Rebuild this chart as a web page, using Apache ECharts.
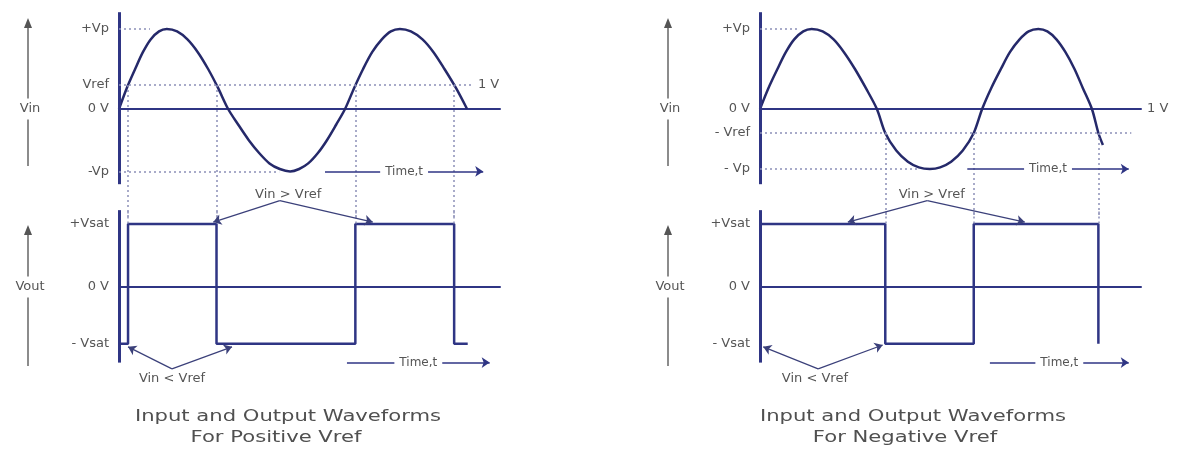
<!DOCTYPE html>
<html>
<head>
<meta charset="utf-8">
<title>Comparator input / output waveforms</title>
<script src="https://cdn.jsdelivr.net/npm/echarts@6/dist/echarts.min.js"></script>
<style>
  html, body { margin: 0; padding: 0; background: #fff; }
  #chart { width: 1177px; height: 450px; }
</style>
</head>
<body>
<div id="chart"></div>
<script>
// time axis in degrees of phase, voltages normalised (Vp = 1, Vsat = 1)

// --- positive Vref (left) ---
const posVinT = [0, 12, 25, 37, 49, 62, 74, 90, 106, 122, 138, 153, 169, 185, 201, 217, 233, 249, 265, 279, 293, 308, 322, 336, 350, 364, 378, 392, 407, 421, 435, 452, 470, 487, 504, 522, 539];
const posVinV = [0, 0.26, 0.5, 0.71, 0.87, 0.97, 1, 0.97, 0.87, 0.71, 0.5, 0.27, 0, -0.2, -0.39, -0.55, -0.68, -0.75, -0.78, -0.75, -0.68, -0.55, -0.39, -0.2, 0, 0.26, 0.5, 0.71, 0.87, 0.97, 1, 0.97, 0.87, 0.71, 0.5, 0.26, 0];
const posVoutT = [0, 14, 151, 366, 519, 540];
const posVoutV = [-0.9, 1, -0.9, 1, -0.9, -0.9];
const posVref = 0.3;
const posCross = [14, 151, 366, 519];
const posInTicks = [1, 0.3, 0, -0.78];
const posInLabels = ['+Vp', 'Vref', '0 V', '-Vp'];
const posGuideLevels = [1, 0.3, -0.78];
const posGuideEnds = [48, 548, 248];

// --- negative Vref (right) ---
const negVinT = [0, 13, 27, 40, 53, 67, 80, 97, 114, 130, 147, 164, 181, 194, 211, 229, 246, 263, 279, 296, 314, 331, 344, 358, 373, 387, 402, 416, 431, 445, 459, 473, 487, 500, 514, 524, 531];
const negVinV = [0, 0.26, 0.5, 0.71, 0.87, 0.97, 1, 0.97, 0.87, 0.71, 0.5, 0.26, 0, -0.3, -0.52, -0.66, -0.73, -0.75, -0.73, -0.66, -0.52, -0.3, 0, 0.26, 0.5, 0.71, 0.87, 0.97, 1, 0.97, 0.87, 0.71, 0.5, 0.26, 0, -0.3, -0.45];
const negVoutT = [0, 194, 331, 524];
const negVoutV = [1, -0.9, 1, -0.9];
const negVref = -0.3;
const negCross = [194, 331, 524];
const negInTicks = [1, 0, -0.3, -0.75];
const negInLabels = ['+Vp', '0 V', '- Vref', '- Vp'];
const negGuideLevels = [1, -0.3, -0.75];
const negGuideEnds = [62, 575, 244];

const outTicks = [1, 0, -0.9];
const outLabels = ['+Vsat', '0 V', '- Vsat'];

// annotation anchors [phase, volts]
const posAbove = { apex: [249, 1.37], heads: [[146, 1.03], [393, 1.03]], text: [262, 1.47] };
const posBelow = { apex: [82, -1.3], heads: [[14, -0.95], [175, -0.95]], text: [82, -1.45] };
const negAbove = { apex: [259, 1.37], heads: [[136, 1.03], [410, 1.03]], text: [266, 1.47] };
const negBelow = { apex: [90, -1.3], heads: [[5, -0.95], [190, -0.92]], text: [85, -1.45] };
const posTimeIn = [319, 564, -0.78], posTimeOut = [353, 574, -1.2];
const negTimeIn = [321, 571, -0.75], negTimeOut = [356, 571, -1.2];

const inAxisSpan = [-0.94, 1.21];
const outAxisSpan = [-1.2, 1.22];

const NAVY = '#2f3584', WAVE = '#25296a', DOT = '#8c90b8', TEXT = '#555555', FONT = 'DejaVu Sans';

const pairs = (t, v) => t.map((x, i) => [x, v[i]]);
const dotted = { type: [2, 3], color: DOT, width: 1.5 };
const axisStroke = { type: 'solid', color: NAVY, width: 3 };
const arrowStroke = { type: 'solid', color: '#3b407a', width: 1.2 };
const timeStroke = { type: 'solid', color: NAVY, width: 1.5 };

function seg(a, b, style, endSymbol, label) {
  const from = { coord: a, lineStyle: style, symbol: 'none' };
  if (label) from.label = label;
  return [from, { coord: b, symbol: endSymbol || 'none' }];
}

function timeArrow(t) {
  return seg([t[0], t[2]], [t[1], t[2]], timeStroke, 'arrow');
}
function timeText(t) {
  return { name: 'Time,t', coord: [(t[0] + t[1]) / 2, t[2]], label: { backgroundColor: '#fff', padding: [1, 5], fontSize: 12 } };
}

function inputLines(levels, ends, vref, cross, time, endLabel) {
  const out = [seg([0, inAxisSpan[0]], [0, inAxisSpan[1]], axisStroke)];
  levels.forEach((lv, i) => {
    const lab = (endLabel && lv === vref)
      ? { show: true, position: 'end', formatter: '1 V', color: TEXT, fontSize: 13, fontFamily: FONT, distance: 5 }
      : null;
    out.push(seg([0, lv], [ends[i], lv], dotted, null, lab));
  });
  cross.forEach(c => out.push(seg([c, vref], [c, -1.35], dotted)));
  out.push(timeArrow(time));
  return out;
}

function outputLines(cross, above, below, time) {
  const out = [seg([0, outAxisSpan[0]], [0, outAxisSpan[1]], axisStroke)];
  cross.forEach(c => out.push(seg([c, 1.2], [c, 1.0], dotted)));
  above.heads.forEach(h => out.push(seg(above.apex, h, arrowStroke, 'arrow')));
  below.heads.forEach(h => out.push(seg(below.apex, h, arrowStroke, 'arrow')));
  out.push(timeArrow(time));
  return out;
}

const markLineBase = {
  silent: true,
  animation: false,
  symbol: ['none', 'none'],
  symbolSize: 8,
  label: { show: false },
  emphasis: { disabled: true }
};
const markPointBase = {
  silent: true,
  animation: false,
  symbol: 'rect',
  symbolSize: 1,
  z: 10,
  itemStyle: { color: 'rgba(0,0,0,0)' },
  label: { show: true, position: 'inside', formatter: '{b}', color: TEXT, fontSize: 13, fontFamily: FONT }
};

function nearestLabel(ticks, labels) {
  return v => {
    let best = 0;
    ticks.forEach((t, i) => { if (Math.abs(t - v) < Math.abs(ticks[best] - v)) best = i; });
    return labels[best];
  };
}

function yAxis(gridIndex, min, max, ticks, labels) {
  return {
    type: 'value', gridIndex, min, max,
    splitLine: { show: false },
    axisTick: { show: false },
    axisLine: { show: false },
    axisLabel: {
      show: true, customValues: ticks, margin: 10,
      color: TEXT, fontSize: 13, fontFamily: FONT,
      formatter: nearestLabel(ticks, labels)
    }
  };
}
function xAxis(gridIndex, name) {
  return {
    type: 'value', gridIndex, min: 0, max: 590,
    splitLine: { show: false },
    axisTick: { show: false },
    axisLabel: { show: false },
    axisLine: { show: true, onZero: true, lineStyle: { color: NAVY, width: 2 } },
    name: name || '', nameLocation: 'end', nameGap: 6,
    nameTextStyle: { color: TEXT, fontSize: 13, fontFamily: FONT }
  };
}

function sideArrow(x, yTop, yBottom, yText, text) {
  return [
    { type: 'line', shape: { x1: x, y1: yTop + 8, x2: x, y2: yBottom }, style: { stroke: '#666', lineWidth: 1.5 } },
    { type: 'polygon', shape: { points: [[x, yTop], [x - 4, yTop + 10], [x + 4, yTop + 10]] }, style: { fill: '#555' } },
    { type: 'text', x: x + 2, y: yText, z: 10, style: { text: text, fill: TEXT, font: '13px "DejaVu Sans"', align: 'center', verticalAlign: 'middle', backgroundColor: '#fff', padding: [4, 1] } }
  ];
}
function caption(x, y, text) {
  return { type: 'text', x: x, y: y, scaleX: 1.32, style: { text: text, fill: '#505050', font: '16px "DejaVu Sans"', align: 'center', verticalAlign: 'middle' } };
}

const chart = echarts.init(document.getElementById('chart'));

chart.setOption({
  animation: false,
  backgroundColor: '#ffffff',
  textStyle: { fontFamily: FONT },
  grid: [
    { left: 119, top: 11.4, width: 381, height: 205.6, outerBoundsMode: 'none' },
    { left: 119, top: 189.35, width: 381, height: 192.15, outerBoundsMode: 'none' },
    { left: 760, top: 11.4, width: 381, height: 205.6, outerBoundsMode: 'none' },
    { left: 760, top: 189.35, width: 381, height: 192.15, outerBoundsMode: 'none' }
  ],
  xAxis: [xAxis(0), xAxis(1), xAxis(2, '1 V'), xAxis(3)],
  yAxis: [
    yAxis(0, -1.35, 1.22, posInTicks, posInLabels),
    yAxis(1, -1.5, 1.55, outTicks, outLabels),
    yAxis(2, -1.35, 1.22, negInTicks, negInLabels),
    yAxis(3, -1.5, 1.55, outTicks, outLabels)
  ],
  series: [
    {
      name: 'Vin (+Vref)', type: 'line', xAxisIndex: 0, yAxisIndex: 0,
      data: pairs(posVinT, posVinV), smooth: 0.3, showSymbol: false, clip: false,
      lineStyle: { color: WAVE, width: 2.5 },
      markLine: Object.assign({}, markLineBase, { data: inputLines(posGuideLevels, posGuideEnds, posVref, posCross, posTimeIn, true) }),
      markPoint: Object.assign({}, markPointBase, { data: [timeText(posTimeIn)] })
    },
    {
      name: 'Vout (+Vref)', type: 'line', xAxisIndex: 1, yAxisIndex: 1,
      data: pairs(posVoutT, posVoutV), step: 'end', showSymbol: false, clip: false,
      lineStyle: { color: NAVY, width: 2.5 },
      markLine: Object.assign({}, markLineBase, { data: outputLines(posCross, posAbove, posBelow, posTimeOut) }),
      markPoint: Object.assign({}, markPointBase, {
        data: [
          { name: 'Vin > Vref', coord: posAbove.text },
          { name: 'Vin < Vref', coord: posBelow.text },
          timeText(posTimeOut)
        ]
      })
    },
    {
      name: 'Vin (-Vref)', type: 'line', xAxisIndex: 2, yAxisIndex: 2,
      data: pairs(negVinT, negVinV), smooth: 0.3, showSymbol: false, clip: false,
      lineStyle: { color: WAVE, width: 2.5 },
      markLine: Object.assign({}, markLineBase, { data: inputLines(negGuideLevels, negGuideEnds, negVref, negCross, negTimeIn, false) }),
      markPoint: Object.assign({}, markPointBase, { data: [timeText(negTimeIn)] })
    },
    {
      name: 'Vout (-Vref)', type: 'line', xAxisIndex: 3, yAxisIndex: 3,
      data: pairs(negVoutT, negVoutV), step: 'end', showSymbol: false, clip: false,
      lineStyle: { color: NAVY, width: 2.5 },
      markLine: Object.assign({}, markLineBase, { data: outputLines(negCross, negAbove, negBelow, negTimeOut) }),
      markPoint: Object.assign({}, markPointBase, {
        data: [
          { name: 'Vin > Vref', coord: negAbove.text },
          { name: 'Vin < Vref', coord: negBelow.text },
          timeText(negTimeOut)
        ]
      })
    }
  ],
  graphic: [].concat(
    sideArrow(28, 18, 166, 109, 'Vin'),
    sideArrow(28, 225, 366, 287, 'Vout'),
    sideArrow(668, 18, 166, 109, 'Vin'),
    sideArrow(668, 225, 366, 287, 'Vout'),
    [
      caption(288, 417, 'Input and Output Waveforms'),
      caption(276, 438, 'For Positive Vref'),
      caption(913, 417, 'Input and Output Waveforms'),
      caption(905, 438, 'For Negative Vref')
    ]
  )
});
</script>
</body>
</html>
